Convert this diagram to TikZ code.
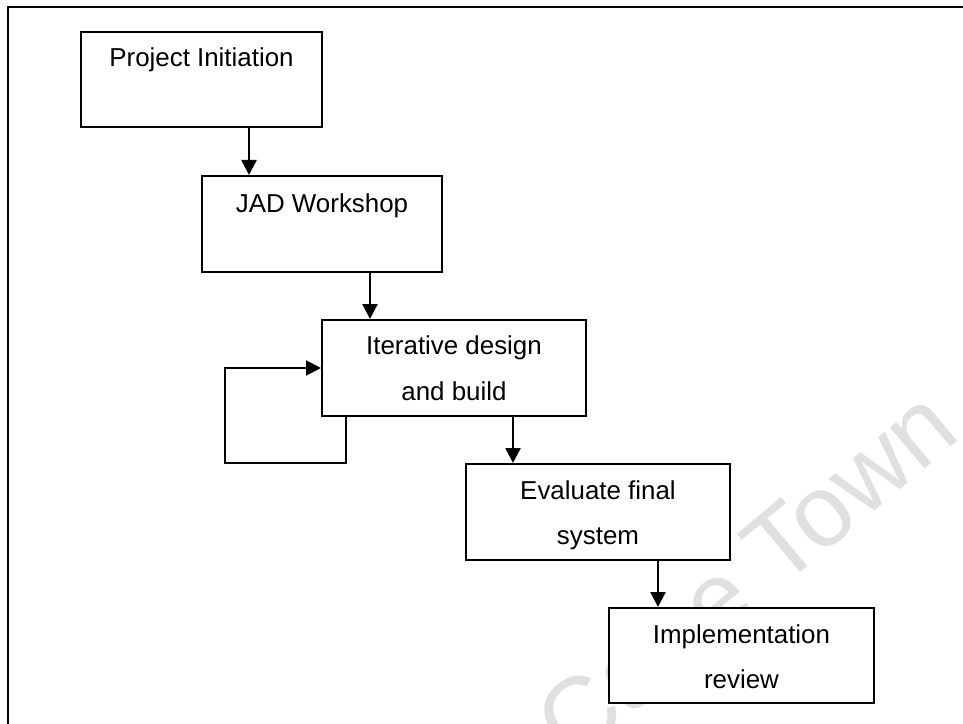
\documentclass[tikz,border=0pt]{standalone}
\usepackage{fontspec}
\setmainfont{Liberation Sans}
\usetikzlibrary{arrows.meta}

\begin{document}
\begin{tikzpicture}[x=1bp, y=-1bp,
  box/.style={draw=black, line width=2bp, fill=white, inner sep=0pt, rectangle},
  lbl/.style={font=\fontsize{26}{30}\selectfont, anchor=base, inner sep=0pt, text=black},
  arr/.style={line width=2.5bp, -{Triangle[length=15bp, width=15bp]}},
  loopline/.style={line width=2bp, -{Triangle[length=15bp, width=15bp]}},
  wmark/.style={font=\fontsize{102}{110}\selectfont, text=black!12, inner sep=0pt, rotate=40, anchor=base east}]

\useasboundingbox (0,0) rectangle (963,724);
\fill[white] (0,0) rectangle (963,724);

% watermark behind the chart
\node[wmark] (wm) at (963,437) {University of Cape Town};

% page frame (runs off the right and bottom edges)
\draw[line width=2.2bp] (8,724) -- (8,7) -- (963,7);

% process boxes
\node[box, minimum width=241bp, minimum height=95bp] (pi)   at (201.5,79.5) {};
\node[box, minimum width=240bp, minimum height=96bp] (jad)  at (322,224) {};
\node[box, minimum width=264bp, minimum height=96bp] (iter) at (454,368) {};
\node[box, minimum width=264bp, minimum height=96bp] (eval) at (598,512) {};
\node[box, minimum width=265bp, minimum height=95bp] (impl) at (741.5,655.5) {};

% box texts
\node[lbl] (piA)   at (201.5,66.7) {Project Initiation};
\node[lbl] (jadA)  at (322,212.3)  {JAD Workshop};
\node[lbl] (iterA) at (454,354)    {Iterative design};
\node[lbl] (iterB) at (454,400)    {and build};
\node[lbl] (evalA) at (598,499)    {Evaluate final};
\node[lbl] (evalB) at (598,544)    {system};
\node[lbl] (implA) at (741.5,643)  {Implementation};
\node[lbl] (implB) at (741.5,688)  {review};

% flow arrows
\draw[arr] (249,0 |- pi.south)   -- (249,0 |- jad.north);
\draw[arr] (370,0 |- jad.south)  -- (370,0 |- iter.north);
\draw[arr] (513,0 |- iter.south) -- (513,0 |- eval.north);
\draw[arr] (658,0 |- eval.south) -- (658,0 |- impl.north);

% iteration loop back into the design box
\coordinate (loopA) at (346,463);
\coordinate (loopB) at (225,463);
\coordinate (loopC) at (225,368);
\draw[loopline] (346,0 |- iter.south) -- (loopA) -- (loopB) -- (loopC) -- (iter.west);
\end{tikzpicture}
\end{document}
